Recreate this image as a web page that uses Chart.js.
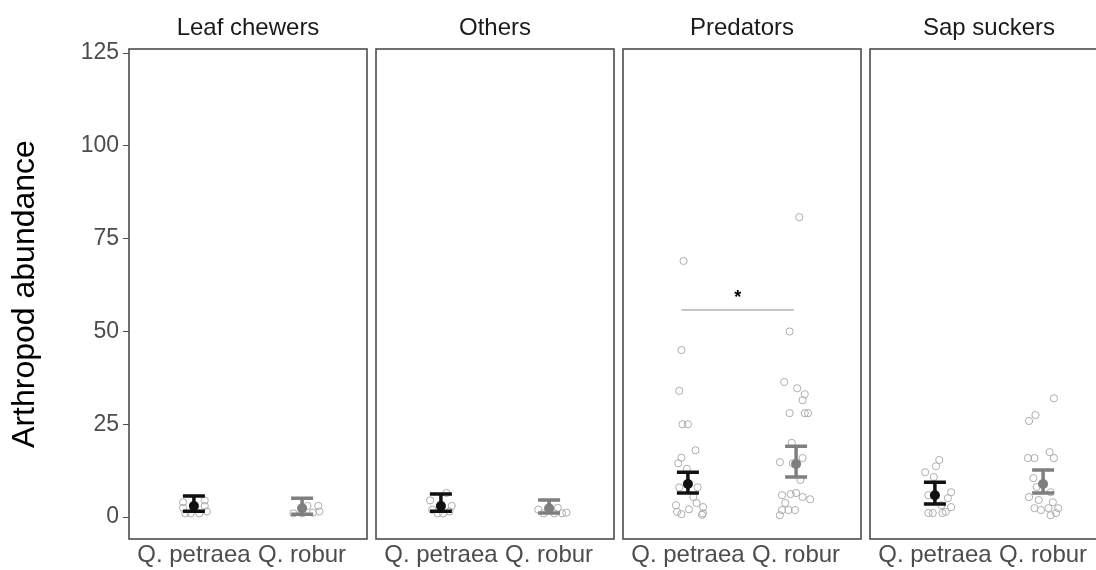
<!DOCTYPE html>
<html>
<head>
<meta charset="utf-8">
<script src="https://cdn.jsdelivr.net/npm/chart.js@4"></script>
<style>
  html, body { margin: 0; padding: 0; background: #fff; }
  body { width: 1096px; height: 570px; overflow: hidden; position: relative; }
  canvas { position: absolute; top: 0; }
</style>
</head>
<body>
<script>
// facets and groups
var panels = ['Leaf chewers', 'Others', 'Predators', 'Sap suckers'];
var categories = ['Q. petraea', 'Q. robur'];
var yTicks = [0, 25, 50, 75, 100, 125];

// model estimate and CI per panel: [petraea, robur]
var means = [[3.0, 2.4], [3.0, 2.4], [8.9, 14.3], [5.9, 8.9]];
var lower = [[1.6, 0.8], [1.6, 1.1], [6.5, 10.8], [3.5, 6.5]];
var upper = [[5.7, 5.1], [6.2, 4.6], [12.1, 19.1], [9.4, 12.7]];

// raw counts, [jitter, value]
var leafPetraea = [[-0.1, 4], [0.1, 4.5], [-0.08, 1], [-0.03, 1], [0.05, 1], [0.12, 1.5], [0.1, 3], [-0.1, 2.5]];
var leafRobur = [[-0.08, 1], [0, 1], [0.1, 1.2], [0.15, 3], [0.16, 1.5], [0.05, 3]];
var othersPetraea = [[-0.1, 4.5], [-0.08, 2], [-0.03, 1], [0.02, 1], [0.08, 1.5], [0.1, 3], [0.05, 6.5]];
var othersRobur = [[-0.1, 2], [-0.05, 1], [0.05, 1], [0.12, 1], [0.16, 1.2], [0.08, 2.5]];
var predPetraea = [[-0.04, 69], [-0.06, 45], [-0.08, 34], [-0.05, 25], [0, 25], [0.07, 18], [-0.06, 16],
  [-0.09, 14.5], [-0.01, 13], [-0.08, 8], [0.09, 8], [0.05, 5.4], [0.08, 3.8], [-0.11, 3.2], [0.14, 2.7],
  [0.01, 2.1], [-0.1, 1.4], [-0.06, 0.8], [0.13, 0.6], [0.14, 1]];
var predRobur = [[0.03, 80.8], [-0.06, 50], [-0.11, 36.4], [0.01, 34.7], [0.08, 33.1], [0.06, 31.5],
  [-0.06, 28], [0.08, 28], [0.11, 28], [-0.04, 20], [0.06, 15.9], [-0.15, 14.8], [-0.03, 14.5], [0.04, 10],
  [0, 6.5], [-0.13, 5.9], [-0.05, 6.2], [0.06, 5.4], [0.13, 4.8], [-0.1, 3.8], [-0.13, 1.9], [-0.07, 1.9],
  [-0.01, 1.9], [-0.15, 0.5]];
var sapPetraea = [[0.04, 15.4], [0.01, 13.7], [-0.09, 12.1], [-0.01, 10.8], [0.15, 6.7], [-0.06, 5.9],
  [0.12, 5.1], [0.15, 2.7], [-0.06, 1.1], [-0.02, 1.1], [0.07, 1.1], [0.1, 1.4], [0.06, 3.2]];
var sapRobur = [[0.1, 32], [-0.07, 27.5], [-0.13, 25.9], [-0.14, 15.9], [-0.08, 15.9], [0.06, 17.5],
  [0.1, 15.9], [-0.09, 10.5], [-0.06, 8.1], [0.07, 6.7], [-0.13, 5.4], [-0.04, 4.6], [0.09, 4.0],
  [-0.08, 2.4], [-0.02, 1.9], [0.05, 2.4], [0.14, 2.4], [0.07, 0.5], [0.12, 1.1]];
var raw = [[leafPetraea, leafRobur], [othersPetraea, othersRobur], [predPetraea, predRobur], [sapPetraea, sapRobur]];

// significance bracket (Predators only)
var sigPanel = 2;
var sigY = 55.8;
var sigLabel = '*';

var groupColors = ['#111111', '#7f7f7f'];
var fontFam = '"Liberation Sans", Arial, sans-serif';
var panelLeft = [129, 376, 623, 870];
var panelW = 238;

var framePlugin = {
  id: 'frame',
  afterDatasetDraw: function(chart, args) {
    if (args.index !== 0) return;
    var i = chart.options.plugins.frame.panel;
    var x = chart.scales.x, y = chart.scales.y, ctx = chart.ctx;
    ctx.save();
    ctx.lineWidth = 3.5;
    for (var g = 0; g < 2; g++) {
      var cx = x.getPixelForValue(g + 1);
      var yl = y.getPixelForValue(lower[i][g]), yh = y.getPixelForValue(upper[i][g]);
      ctx.strokeStyle = groupColors[g];
      ctx.beginPath();
      ctx.moveTo(cx, yl); ctx.lineTo(cx, yh);
      ctx.moveTo(cx - 11, yl); ctx.lineTo(cx + 11, yl);
      ctx.moveTo(cx - 11, yh); ctx.lineTo(cx + 11, yh);
      ctx.stroke();
    }
    ctx.restore();
  },
  afterDraw: function(chart) {
    var i = chart.options.plugins.frame.panel;
    var a = chart.chartArea, ctx = chart.ctx;
    ctx.save();
    if (i === sigPanel) {
      var x = chart.scales.x, y = chart.scales.y;
      var sy = y.getPixelForValue(sigY);
      ctx.strokeStyle = '#8c8c8c';
      ctx.lineWidth = 1;
      ctx.beginPath();
      ctx.moveTo(x.getPixelForValue(0.94), sy);
      ctx.lineTo(x.getPixelForValue(1.98), sy);
      ctx.stroke();
      ctx.fillStyle = '#000';
      ctx.font = 'bold 18px ' + fontFam;
      ctx.textAlign = 'center';
      ctx.textBaseline = 'alphabetic';
      ctx.fillText(sigLabel, x.getPixelForValue(1.46), sy - 7);
    }
    ctx.strokeStyle = '#4d4d4d';
    ctx.lineWidth = 1.6;
    ctx.strokeRect(a.left, a.top, a.right - a.left, a.bottom - a.top);
    ctx.restore();
  }
};

panels.forEach(function(name, i) {
  var cv = document.createElement('canvas');
  var left = i === 0 ? 0 : panelLeft[i] - 2;
  var width = panelLeft[i] + panelW + 2 - left;
  cv.width = width; cv.height = 570;
  cv.style.left = left + 'px';
  cv.style.width = width + 'px'; cv.style.height = '570px';
  document.body.appendChild(cv);

  var pts = [];
  raw[i].forEach(function(grp, g) {
    grp.forEach(function(p) { pts.push({ x: g + 1 + p[0], y: p[1] }); });
  });
  var meanPts = means[i].map(function(m, g) { return { x: g + 1, y: m }; });

  new Chart(cv, {
    type: 'scatter',
    data: {
      datasets: [
        { data: pts, pointRadius: 3.6, borderWidth: 1, borderColor: '#adadad', backgroundColor: 'rgba(0,0,0,0)', order: 2 },
        { data: meanPts, pointRadius: 5, borderWidth: 0, backgroundColor: groupColors, borderColor: groupColors, order: 1 }
      ]
    },
    options: {
      responsive: false,
      animation: false,
      layout: { autoPadding: false, padding: { left: i === 0 ? 0 : 2, right: 2, top: 0, bottom: 0 } },
      plugins: {
        legend: { display: false },
        tooltip: { enabled: false },
        frame: { panel: i },
        title: {
          display: true, text: name, fullSize: false, color: '#1a1a1a',
          font: { size: 24, family: fontFam, weight: 'normal' },
          padding: { top: 14, bottom: 6.2 }
        }
      },
      scales: {
        x: {
          type: 'linear', min: 0.4, max: 2.6,
          afterBuildTicks: function(s) { s.ticks = categories.map(function(c, k) { return { value: k + 1 }; }); },
          afterFit: function(s) { s.height = 31; s.paddingLeft = 0; s.paddingRight = 0; },
          ticks: {
            callback: function(v) { return categories[v - 1]; },
            color: '#4d4d4d', font: { size: 24, family: fontFam }, padding: 2,
            maxRotation: 0, autoSkip: false
          },
          grid: { display: false, drawTicks: false },
          border: { display: false }
        },
        y: {
          display: i === 0,
          min: -5.9, max: 126.1,
          afterBuildTicks: function(s) { s.ticks = yTicks.map(function(v) { return { value: v }; }); },
          afterFit: function(s) { if (i === 0) s.width = 129; },
          ticks: { color: '#4d4d4d', font: { size: 23, family: fontFam }, padding: 4 },
          grid: { drawOnChartArea: false, tickLength: 6, color: '#4d4d4d' },
          border: { display: false },
          title: {
            display: true, text: 'Arthropod abundance', color: '#000',
            font: { size: 32, family: fontFam, weight: 'normal' },
            padding: { top: 6, bottom: 0 }
          }
        }
      }
    },
    plugins: [framePlugin]
  });
});
</script>
</body>
</html>
